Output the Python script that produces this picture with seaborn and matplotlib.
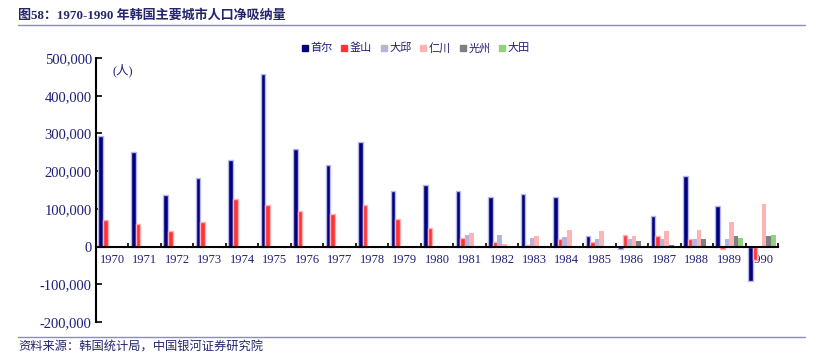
import numpy as np
import pandas as pd
import matplotlib
matplotlib.use('Agg')
import matplotlib.pyplot as plt
import seaborn as sns
from matplotlib.ticker import FuncFormatter, FixedLocator
from matplotlib.lines import Line2D

nan = np.nan
years = [str(y) for y in range(1970, 1991)]
cities = ['首尔', '釜山', '大邱', '仁川', '光州', '大田']
seoul = [293000, 251000, 138000, 183000, 230000, 458000, 260000, 215000, 278000, 147000,
         164000, 147000, 131000, 140000, 132000, 29000, -7000, 82000, 187000, 107000, -92000]
busan = [70000, 60000, 42000, 66000, 125000, 110000, 94000, 87000, 111000, 74000,
         50000, 24000, 13000, 5000, 21000, 11000, 30000, 28000, 21000, -7000, -35000]
daegu = [nan] * 11 + [32000, 30000, 24000, 26000, 19000, 19000, 19000, 19000, 20000, nan]
incheon = [nan] * 11 + [35000, 8000, 27000, 43000, 40000, 29000, 42000, 45000, 65000, 114000]
gwangju = [nan] * 16 + [14000, 5000, 21000, 27000, 27000]
daejeon = [nan] * 19 + [24000, 32000]

colors = ['#000080', '#ff3333', '#b4b4dc', '#ffb4b4', '#7f7f7f', '#92d27a']
edges = ['#b8b8e6', '#ffb0b0', 'none', 'none', 'none', 'none']

series = [seoul, busan, daegu, incheon, gwangju, daejeon]
rows = []
for c, vals in zip(cities, series):
    for y, v in zip(years, vals):
        rows.append({'year': y, 'city': c, 'value': v})
df = pd.DataFrame(rows).dropna()

sns.set_style('white')
plt.rcParams['font.family'] = ['Liberation Serif', 'Noto Sans CJK SC', 'DejaVu Sans']
plt.rcParams['axes.unicode_minus'] = False

navy = '#1f1f78'
fig = plt.figure(figsize=(8.2, 3.56), dpi=100)
ax = fig.add_axes([96 / 820, 1 - 322 / 356, (778 - 96) / 820, (322 - 58) / 356])

sns.barplot(data=df, x='year', y='value', hue='city', order=years, hue_order=cities,
            palette=colors, saturation=1, errorbar=None, width=0.85, legend=False, ax=ax,
            linewidth=0)

for cont, ec in zip(ax.containers, edges):
    for p in cont.patches:
        if ec != 'none':
            p.set_edgecolor(ec)
            p.set_linewidth(1.0)

ax.set_xlim(-0.5, 20.5)
ax.set_ylim(-200000, 500000)
ax.set_yticks(np.arange(-200000, 500001, 100000))
ax.yaxis.set_major_formatter(FuncFormatter(lambda v, p: f'{int(v):,}'))
ax.set_xlabel('')
ax.set_ylabel('')

for s in ['top', 'right']:
    ax.spines[s].set_visible(False)
ax.spines['left'].set_color('black')
ax.spines['left'].set_linewidth(1.5)
ax.spines['bottom'].set_position(('data', 0))
ax.spines['bottom'].set_color('black')
ax.spines['bottom'].set_linewidth(1.5)

ax.tick_params(axis='y', direction='in', length=4, width=1.2, color='black',
               labelsize=10.5, labelcolor=navy, pad=3, left=True)
ax.tick_params(axis='x', which='major', length=0, labelsize=9, labelcolor=navy, pad=5)
ax.xaxis.set_minor_locator(FixedLocator(np.arange(-0.5, 20.6, 1.0)))
ax.tick_params(axis='x', which='minor', direction='in', length=3, width=1.2, color='black',
               bottom=True)

ax.text(0.02, 468000, '(人)', fontsize=9, color=navy, ha='left', va='center')

handles = [Line2D([0], [0], marker='s', linestyle='none', markersize=4,
                  markerfacecolor=c, markeredgecolor=c) for c in colors]
fig.legend(handles, cities, loc='center', bbox_to_anchor=(416 / 820, 1 - 48 / 356), ncol=6,
           frameon=False, handlelength=0.5, handletextpad=0.25,
           columnspacing=0.8, labelcolor=navy,
           prop={'family': ['Noto Sans CJK SC'], 'size': 8})

fig.text(18 / 820, 1 - 15 / 356, '图58：1970-1990 年韩国主要城市人口净吸纳量', fontsize=9.4,
         fontweight='bold', color='#25256e', ha='left', va='center',
         family=['Liberation Serif', 'Noto Sans CJK SC'])
fig.add_artist(Line2D([18 / 820, 805 / 820], [1 - 25 / 356, 1 - 25 / 356],
                      color='#8c88cc', linewidth=1.0, transform=fig.transFigure))
fig.add_artist(Line2D([18 / 820, 805 / 820], [1 - 337 / 356, 1 - 337 / 356],
                      color='#8c88cc', linewidth=1.0, transform=fig.transFigure))
fig.text(18 / 820, 1 - 347 / 356, '资料来源：韩国统计局，中国银河证券研究院', fontsize=8.8,
         color='#25256e', ha='left', va='center', style='italic',
         family=['Noto Sans CJK SC'])

fig.savefig('out.png', dpi=100)
